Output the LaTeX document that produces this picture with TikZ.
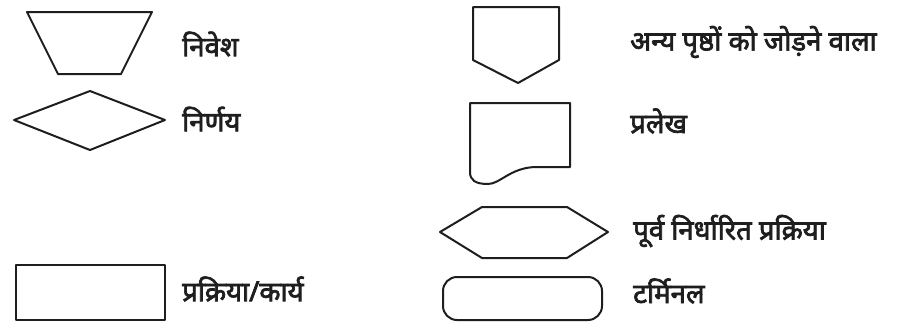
\documentclass[tikz,border=0pt]{standalone}
\usepackage{fontspec}
\newfontfamily\hindi[Script=Devanagari,FakeBold=2.6]{Noto Sans}
\usepackage{tikz}
\definecolor{ink}{HTML}{1E1E1E}

\begin{document}
\begin{tikzpicture}[
  x=1pt,y=-1pt,
  symbol/.style={draw=ink,line width=2pt,line join=round},
  label/.style={anchor=west,inner sep=0pt,text=ink,font=\hindi\fontsize{27.5}{30}\selectfont}
]
  \useasboundingbox[fill=white] (0,0) rectangle (910,322);
  % left column
  \draw[symbol] (27,12) -- (152,12) -- (121,74) -- (58,74) -- cycle;
  \draw[symbol] (14,120) -- (90,91) -- (165,120) -- (90,150) -- cycle;
  \draw[symbol] (16,265) rectangle (165,320);
  \node[label] (input) at (182,44) {निवेश};
  \node[label] (decision) at (182,119) {निर्णय};
  \node[label] (process) at (182,289) {प्रक्रिया/कार्य};
  % right column
  \draw[symbol] (473,7) -- (559,7) -- (559,60) -- (518,83) -- (473,60) -- cycle;
  \draw[symbol] (470,103) -- (570,103) -- (570,167) -- (535,167)
    .. controls (510,168) and (500,184) .. (488,184)
    .. controls (475,184) and (470,180) .. (470,172) -- cycle;
  \draw[symbol] (440,232) -- (482,207) -- (567,207) -- (608,232) -- (567,258) -- (482,258) -- cycle;
  \draw[symbol,rounded corners=14] (443,277) rectangle (602,320);
  \node[label] (offpage) at (630,42) {अन्य पृष्ठों को जोड़ने वाला};
  \node[label] (document) at (630,121) {प्रलेख};
  \node[label] (predefined) at (633,231) {पूर्व निर्धारित प्रक्रिया};
  \node[label] (terminal) at (633,291) {टर्मिनल};
\end{tikzpicture}
\end{document}
